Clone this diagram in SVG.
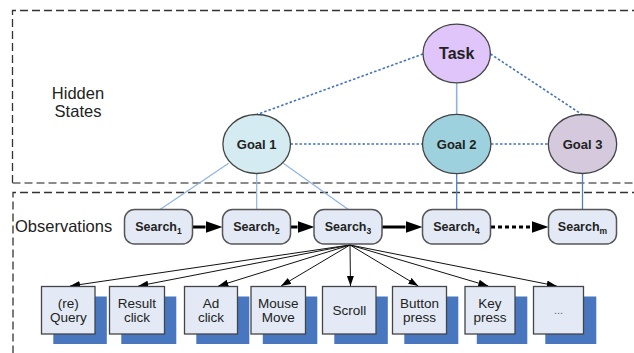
<svg xmlns="http://www.w3.org/2000/svg" width="634" height="353" viewBox="0 0 634 353">
<defs>
<style>
.frame{fill:none;stroke:#333;stroke-width:1.3;stroke-dasharray:8,4}
.goal{stroke:#444;stroke-width:1.3}
.srch{fill:#E3EAF5;stroke:#555;stroke-width:1.5}
.obs{fill:#E3EAF5;stroke:#444;stroke-width:1.3}
.shadow{fill:#4877C0}
.lbl{font-family:"Liberation Sans",Arial,sans-serif;fill:#222}
.b{font-weight:bold}
.lite{stroke:#8DB3E2;stroke-width:1.2;fill:none}
.dark{stroke:#4F81BD;stroke-width:1.3;fill:none}
.dot{stroke:#4472C4;stroke-width:1.6;stroke-dasharray:2.5,2;fill:none}
.fan{stroke:#111;stroke-width:1;fill:none}
.thick{stroke:#000;stroke-width:3;fill:none}
</style>
<marker id="small" markerUnits="userSpaceOnUse" markerWidth="10" markerHeight="8" refX="10" refY="3.5" orient="auto">
<path d="M0,0 L10,3.5 L0,7 z" fill="#000"/>
</marker>
<marker id="big" markerUnits="userSpaceOnUse" markerWidth="18" markerHeight="12" refX="0" refY="6" orient="auto">
<path d="M0,0 L17,6 L0,12 z" fill="#000"/>
</marker>
</defs>

<g id="frames">
<path class="frame" d="M640,10.5 H12.5 V183"/>
<path class="frame" style="stroke:#666" d="M12.5,183 H640"/>
<path class="frame" d="M640,192.5 H13 V360"/>
</g>

<g id="region-labels">
<text class="lbl" x="78" y="99" font-size="16.5" text-anchor="middle">Hidden</text>
<text class="lbl" x="78" y="116.5" font-size="16.5" text-anchor="middle">States</text>
<text class="lbl" x="15" y="232" font-size="16.5">Observations</text>
</g>

<g id="connectors">
<line class="dot" x1="423" y1="54" x2="257" y2="114.5"/>
<line class="dot" x1="490.5" y1="54" x2="582" y2="114.5"/>
<line class="dot" x1="290.5" y1="144" x2="422.5" y2="144"/>
<line class="dot" x1="491" y1="144" x2="548" y2="144"/>
<line class="lite" style="stroke-width:1.6" x1="456.7" y1="82.5" x2="456.7" y2="114.3"/>
<line class="lite" x1="228.7" y1="163.3" x2="160" y2="209.5"/>
<line class="lite" x1="256.7" y1="173.5" x2="256.7" y2="209.5"/>
<line class="lite" x1="283.3" y1="163.3" x2="348.3" y2="209.5"/>
<line class="dark" x1="456.7" y1="174" x2="456.7" y2="209.5"/>
<line class="dark" x1="582.5" y1="173.5" x2="582.5" y2="210"/>
<line class="thick" x1="192.5" y1="227" x2="205.5" y2="227" marker-end="url(#big)"/>
<line class="thick" x1="290.5" y1="227" x2="297.5" y2="227" marker-end="url(#big)"/>
<line class="thick" x1="382" y1="227" x2="405.5" y2="227" marker-end="url(#big)"/>
<line class="thick" style="stroke-dasharray:4,3" x1="491" y1="227" x2="531.5" y2="227" marker-end="url(#big)"/>
<line class="fan" x1="350" y1="245" x2="70" y2="286" marker-end="url(#small)"/>
<line class="fan" x1="350" y1="245" x2="138.3" y2="286" marker-end="url(#small)"/>
<line class="fan" x1="350" y1="245" x2="218.3" y2="286" marker-end="url(#small)"/>
<line class="fan" x1="350" y1="245" x2="281" y2="286" marker-end="url(#small)"/>
<line class="fan" x1="350" y1="245" x2="350.5" y2="286" marker-end="url(#small)"/>
<line class="fan" x1="350" y1="245" x2="418.3" y2="286" marker-end="url(#small)"/>
<line class="fan" x1="350" y1="245" x2="488.3" y2="286" marker-end="url(#small)"/>
<line class="fan" x1="350" y1="245" x2="556.7" y2="286" marker-end="url(#small)"/>
</g>

<g id="task">
<ellipse class="goal" cx="456.7" cy="53.5" rx="33.7" ry="29.3" fill="#DFC5FA"/>
<text class="lbl b" x="456.7" y="58.5" font-size="16" text-anchor="middle">Task</text>
</g>
<g id="goal1">
<ellipse class="goal" cx="256.7" cy="144" rx="33.8" ry="29.5" fill="#D4ECF1"/>
<text class="lbl b" x="256.7" y="148.5" font-size="13" text-anchor="middle">Goal 1</text>
</g>
<g id="goal2">
<ellipse class="goal" cx="456.7" cy="144" rx="34.2" ry="29.7" fill="#9DD1DE"/>
<text class="lbl b" x="456.7" y="148.5" font-size="13" text-anchor="middle">Goal 2</text>
</g>
<g id="goal3">
<ellipse class="goal" cx="582.5" cy="144" rx="34.2" ry="29.5" fill="#D4C9DD"/>
<text class="lbl b" x="582.5" y="148.5" font-size="13" text-anchor="middle">Goal 3</text>
</g>

<g id="search1">
<rect class="srch" x="124.5" y="209.5" width="68" height="34.5" rx="10"/>
<text class="lbl b" x="158.5" y="231" font-size="12.5" text-anchor="middle">Search<tspan font-size="8.5" dy="2.5">1</tspan></text>
</g>
<g id="search2">
<rect class="srch" x="222.5" y="209.5" width="68" height="34.5" rx="10"/>
<text class="lbl b" x="256.5" y="231" font-size="12.5" text-anchor="middle">Search<tspan font-size="8.5" dy="2.5">2</tspan></text>
</g>
<g id="search3">
<rect class="srch" x="314" y="209.5" width="68" height="34.5" rx="10"/>
<text class="lbl b" x="348" y="231" font-size="12.5" text-anchor="middle">Search<tspan font-size="8.5" dy="2.5">3</tspan></text>
</g>
<g id="search4">
<rect class="srch" x="422.5" y="209.5" width="68" height="34.5" rx="10"/>
<text class="lbl b" x="456.5" y="231" font-size="12.5" text-anchor="middle">Search<tspan font-size="8.5" dy="2.5">4</tspan></text>
</g>
<g id="searchm">
<rect class="srch" x="548.5" y="209.5" width="68" height="34.5" rx="10"/>
<text class="lbl b" x="582.5" y="231" font-size="12.5" text-anchor="middle">Search<tspan font-size="8.5" dy="2.5">m</tspan></text>
</g>

<g id="obs-query">
<rect class="shadow" x="53.3" y="296.5" width="53.5" height="47.5"/>
<rect class="obs" x="41.5" y="286.5" width="53.5" height="47.5"/>
<text class="lbl" x="68.3" y="307.5" font-size="13.5" text-anchor="middle">(re)</text>
<text class="lbl" x="68.3" y="321.5" font-size="13.5" text-anchor="middle">Query</text>
</g>
<g id="obs-result">
<rect class="shadow" x="121.3" y="296.5" width="55" height="47.5"/>
<rect class="obs" x="109.5" y="286.5" width="55" height="47.5"/>
<text class="lbl" x="137" y="307.5" font-size="13.5" text-anchor="middle">Result</text>
<text class="lbl" x="137" y="321.5" font-size="13.5" text-anchor="middle">click</text>
</g>
<g id="obs-ad">
<rect class="shadow" x="196.3" y="296.5" width="53" height="47.5"/>
<rect class="obs" x="184.5" y="286.5" width="53" height="47.5"/>
<text class="lbl" x="211" y="307.5" font-size="13.5" text-anchor="middle">Ad</text>
<text class="lbl" x="211" y="321.5" font-size="13.5" text-anchor="middle">click</text>
</g>
<g id="obs-mouse">
<rect class="shadow" x="262.8" y="296.5" width="54.5" height="47.5"/>
<rect class="obs" x="251" y="286.5" width="54.5" height="47.5"/>
<text class="lbl" x="278.3" y="307.5" font-size="13.5" text-anchor="middle">Mouse</text>
<text class="lbl" x="278.3" y="321.5" font-size="13.5" text-anchor="middle">Move</text>
</g>
<g id="obs-scroll">
<rect class="shadow" x="334.3" y="296.5" width="53.5" height="47.5"/>
<rect class="obs" x="322.5" y="286.5" width="53.5" height="47.5"/>
<text class="lbl" x="349.3" y="314.5" font-size="13.5" text-anchor="middle">Scroll</text>
</g>
<g id="obs-button">
<rect class="shadow" x="404.3" y="296.5" width="54" height="47.5"/>
<rect class="obs" x="392.5" y="286.5" width="54" height="47.5"/>
<text class="lbl" x="419.5" y="307.5" font-size="13.5" text-anchor="middle">Button</text>
<text class="lbl" x="419.5" y="321.5" font-size="13.5" text-anchor="middle">press</text>
</g>
<g id="obs-key">
<rect class="shadow" x="476.8" y="296.5" width="50.5" height="47.5"/>
<rect class="obs" x="465" y="286.5" width="50" height="47.5"/>
<text class="lbl" x="490" y="307.5" font-size="13.5" text-anchor="middle">Key</text>
<text class="lbl" x="490" y="321.5" font-size="13.5" text-anchor="middle">press</text>
</g>
<g id="obs-more">
<rect class="shadow" x="545.3" y="296.5" width="51" height="47.5"/>
<rect class="obs" x="533.5" y="286.5" width="50" height="47.5"/>
<text class="lbl" x="558.5" y="314" font-size="11" fill="#666" text-anchor="middle" style="fill:#666">...</text>
</g>
</svg>
